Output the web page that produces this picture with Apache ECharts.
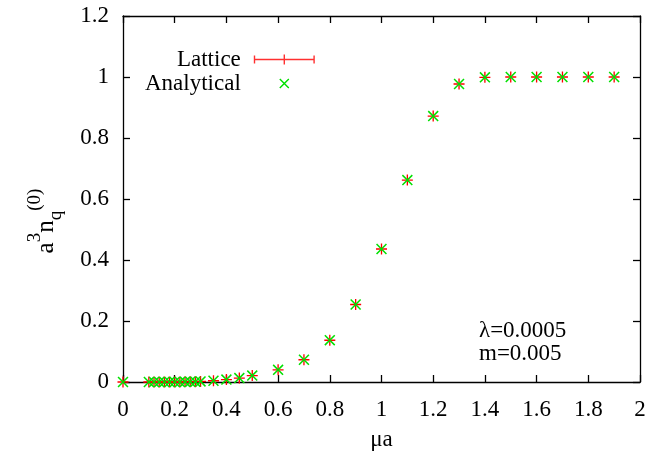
<!DOCTYPE html>
<html>
<head>
<meta charset="utf-8">
<script src="https://cdn.jsdelivr.net/npm/echarts@6/dist/echarts.min.js"></script>
<style>
html,body{margin:0;padding:0;background:#fff;}
#chart{width:650px;height:456px;}
</style>
</head>
<body>
<div id="chart"></div>
<script>
// Data
var muA = [0, 0.1, 0.12, 0.14, 0.16, 0.18, 0.2, 0.22, 0.24, 0.26, 0.28, 0.3,
           0.35, 0.4, 0.45, 0.5, 0.6, 0.7, 0.8, 0.9, 1.0, 1.1, 1.2, 1.3,
           1.4, 1.5, 1.6, 1.7, 1.8, 1.9];
var lattice = [0, 0, 0, 0, 0, 0, 0, 0, 0.0005, 0.001, 0.001, 0.002,
               0.004, 0.008, 0.013, 0.021, 0.04, 0.073, 0.137, 0.254, 0.436, 0.662, 0.872, 0.977,
               0.999, 1.0, 1.0, 1.0, 1.0, 1.0];
var analytical = [0, 0, 0, 0, 0, 0, 0, 0, 0.0005, 0.001, 0.001, 0.002,
                  0.004, 0.008, 0.013, 0.021, 0.04, 0.073, 0.137, 0.254, 0.436, 0.662, 0.872, 0.977,
                  0.999, 1.0, 1.0, 1.0, 1.0, 1.0];
var xTicks = [0, 0.2, 0.4, 0.6, 0.8, 1, 1.2, 1.4, 1.6, 1.8, 2];
var yTicks = [0, 0.2, 0.4, 0.6, 0.8, 1, 1.2];
var seriesNames = ['Lattice', 'Analytical'];
var annotation = ['λ=0.0005', 'm=0.005'];

function pairs(xs, ys) { return xs.map(function (x, i) { return [x, ys[i]]; }); }

var FONT = 'Liberation Serif';
var plusPath = 'path://M-0.6,-5 L0.6,-5 L0.6,5 L-0.6,5 Z M-5,-0.6 L5,-0.6 L5,0.6 L-5,0.6 Z';
var crossPath = 'path://M-0.55,-5 L0.55,-5 L0.55,5 L-0.55,5 Z M-5,-0.55 L5,-0.55 L5,0.55 L-5,0.55 Z';
var legendErr = 'path://M0,4.3 L61,4.3 L61,5.7 L0,5.7 Z M0,1 L1.4,1 L1.4,9 L0,9 Z M59.6,1 L61,1 L61,9 L59.6,9 Z M29.8,0 L31.2,0 L31.2,10 L29.8,10 Z';
var legendCross = 'path://M-31,-5 L-31,-5 Z M-5.55,-4.45 L-4.45,-5.55 L5.55,4.45 L4.45,5.55 Z M4.45,-5.55 L5.55,-4.45 L-4.45,5.55 L-5.55,4.45 Z M31,5 L31,5 Z';

var axisCommon = {
  type: 'value', min: 0,
  splitLine: {show: false},
  axisLine: {show: true, onZero: false, lineStyle: {color: '#000', width: 1.3}},
  axisTick: {show: true, inside: true, length: 7, lineStyle: {color: '#000', width: 1.3}}
};

var chart = echarts.init(document.getElementById('chart'), null, {renderer: 'canvas'});
chart.setOption({
  animation: false,
  backgroundColor: '#fff',
  textStyle: {fontFamily: FONT},
  grid: {left: 123, right: 10, top: 16, bottom: 72, show: false},
  legend: {
    left: 143, top: 46, orient: 'vertical', align: 'right',
    itemGap: 1, itemWidth: 61, itemHeight: 10, padding: 2,
    textStyle: {fontFamily: FONT, fontSize: 23, color: '#000', padding: [0, 8, 0, 0]},
    data: [
      {name: seriesNames[0], icon: legendErr, itemStyle: {color: '#ff3030'}},
      {name: seriesNames[1], icon: legendCross, itemStyle: {color: '#00e000'}}
    ]
  },
  xAxis: [
    Object.assign({}, axisCommon, {
      max: 2, interval: 0.2, position: 'bottom',
      name: 'μa', nameLocation: 'middle', nameGap: 46,
      nameTextStyle: {fontFamily: FONT, fontSize: 23, color: '#000'},
      axisLabel: {fontFamily: FONT, fontSize: 23, color: '#000', margin: 16,
        formatter: function (v) { return xTicks.indexOf(+v.toFixed(1)) >= 0 ? String(+v.toFixed(1)) : ''; }}
    }),
    Object.assign({}, axisCommon, {
      max: 2, interval: 0.2, position: 'top', axisLabel: {show: false}
    })
  ],
  yAxis: [
    Object.assign({}, axisCommon, {
      max: 1.2, interval: 0.2, position: 'left',
      name: '{b|a}{sup|3}{b|n}{sub|q}{sup|(0)}',
      nameLocation: 'middle', nameGap: 57, nameRotate: 90,
      nameTextStyle: {
        fontFamily: FONT, fontSize: 23, color: '#000', padding: [0, 44, 0, 0],
        rich: {
          b: {fontFamily: FONT, fontSize: 25, color: '#000', lineHeight: 40, verticalAlign: 'middle'},
          sup: {fontFamily: FONT, fontSize: 19, color: '#000', lineHeight: 40, verticalAlign: 'top'},
          sub: {fontFamily: FONT, fontSize: 19, color: '#000', lineHeight: 40, verticalAlign: 'bottom'}
        }
      },
      axisLabel: {fontFamily: FONT, fontSize: 23, color: '#000', margin: 14,
        formatter: function (v) { return String(+v.toFixed(1)); }}
    }),
    Object.assign({}, axisCommon, {
      max: 1.2, interval: 0.2, position: 'right', axisLabel: {show: false}
    })
  ],
  series: [
    {
      name: seriesNames[0], type: 'scatter', xAxisIndex: 0, yAxisIndex: 0,
      data: pairs(muA, lattice),
      symbol: plusPath, symbolSize: 11,
      itemStyle: {color: '#ff0000', opacity: 1},
      z: 2
    },
    {
      name: seriesNames[1], type: 'scatter', xAxisIndex: 0, yAxisIndex: 0,
      data: pairs(muA, analytical),
      symbol: crossPath, symbolSize: 14, symbolRotate: 45,
      itemStyle: {color: '#00e000', opacity: 1},
      z: 3
    }
  ],
  graphic: [
    {type: 'text', left: 479, top: 319, style: {text: annotation[0], font: '23px "Liberation Serif"', fill: '#000'}},
    {type: 'text', left: 479, top: 342, style: {text: annotation[1], font: '23px "Liberation Serif"', fill: '#000'}}
  ]
});
</script>
</body>
</html>
